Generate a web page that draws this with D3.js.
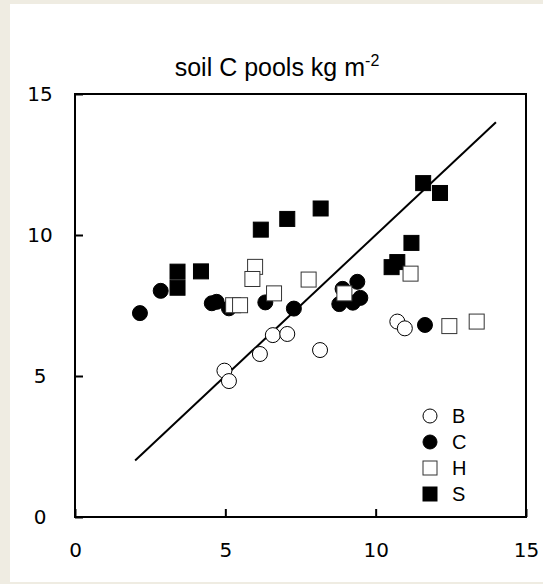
<!DOCTYPE html>
<html>
<head>
<meta charset="utf-8">
<script src="https://cdn.jsdelivr.net/npm/d3@7"></script>
<style>
  body { margin: 0; background: #efece2; }
  svg { display: block; }
</style>
</head>
<body>
<div id="chart"></div>
<script>
// values (x, y in kg m-2)
const seriesNames = ['B', 'C', 'H', 'S']
const bX = [4.97, 5.12, 6.15, 6.58, 7.06, 8.15, 10.72, 10.97]
const bY = [5.19, 4.82, 5.78, 6.45, 6.49, 5.92, 6.93, 6.69]
const cX = [2.16, 2.85, 4.55, 4.71, 5.12, 6.33, 7.28, 8.79, 8.90, 9.24, 9.39, 9.49, 11.64]
const cY = [7.23, 8.02, 7.58, 7.63, 7.40, 7.61, 7.39, 7.55, 8.09, 7.60, 8.34, 7.77, 6.81]
const hX = [5.99, 5.90, 5.26, 5.49, 6.62, 7.77, 8.96, 11.16, 12.45, 13.36]
const hY = [8.87, 8.44, 7.51, 7.51, 7.93, 8.42, 7.93, 8.63, 6.77, 6.93]
const sX = [3.41, 3.41, 4.19, 6.18, 7.06, 8.17, 10.53, 10.72, 11.19, 11.58, 12.14]
const sY = [8.70, 8.13, 8.71, 10.19, 10.57, 10.94, 8.86, 9.04, 9.72, 11.84, 11.49]
const oneToOne = [2, 14]
const tickValues = [0, 5, 10, 15]

const zip = (xs, ys) => xs.map((x, i) => ({ x: x, y: ys[i] }))

const width = 543
const height = 584
const x = d3.scaleLinear().domain([0, 15]).range([75, 526])
const y = d3.scaleLinear().domain([0, 15]).range([517, 94])

const svg = d3.select('#chart')
    .append('svg')
    .attr('width', width)
    .attr('height', height)

svg.append('rect')
    .attr('x', 10)
    .attr('y', 4)
    .attr('width', width - 10)
    .attr('height', 578)
    .attr('fill', '#ffffff')

// title
const title = svg.append('text')
    .attr('x', 277)
    .attr('y', 76)
    .attr('text-anchor', 'middle')
    .style('font-family', 'Arial, "Liberation Sans", sans-serif')
    .style('font-size', '25px')
    .text('soil C pools kg m')
title.append('tspan')
    .attr('dy', -10)
    .style('font-size', '16px')
    .text('-2')

// axes with inward ticks
const xAxis = d3.axisBottom(x).tickValues(tickValues).tickSizeInner(-8).tickSizeOuter(0).tickPadding(26)
const yAxis = d3.axisLeft(y).tickValues(tickValues).tickSizeInner(-8).tickSizeOuter(0).tickPadding(20)

const gx = svg.append('g')
    .attr('transform', `translate(0, ${y(0)})`)
    .call(xAxis)
const gy = svg.append('g')
    .attr('transform', `translate(${x(0)}, 0)`)
    .call(yAxis)

;[gx, gy].forEach((g) => {
    g.select('.domain').remove()
    g.selectAll('line').attr('stroke', '#000').attr('stroke-width', 2)
    g.selectAll('text')
        .attr('fill', '#000')
        .style('font-family', '"DejaVu Sans", Verdana, sans-serif')
        .style('font-size', '20px')
})
gy.selectAll('text').attr('text-anchor', 'middle').attr('x', -35)

// 1:1 line
svg.append('line')
    .attr('x1', x(oneToOne[0]))
    .attr('y1', y(oneToOne[0]))
    .attr('x2', x(oneToOne[1]))
    .attr('y2', y(oneToOne[1]))
    .attr('stroke', '#000')
    .attr('stroke-width', 2)

const sq = 15
const r = 7.5

const drawSquares = (data, fill, stroke) => {
    svg.append('g')
        .selectAll('rect')
        .data(data)
        .enter()
        .append('rect')
        .attr('x', (d) => x(d.x) - sq / 2)
        .attr('y', (d) => y(d.y) - sq / 2)
        .attr('width', sq)
        .attr('height', sq)
        .attr('fill', fill)
        .attr('stroke', stroke)
        .attr('stroke-width', 1)
}
const drawCircles = (data, fill, stroke) => {
    svg.append('g')
        .selectAll('circle')
        .data(data)
        .enter()
        .append('circle')
        .attr('cx', (d) => x(d.x))
        .attr('cy', (d) => y(d.y))
        .attr('r', r)
        .attr('fill', fill)
        .attr('stroke', stroke)
        .attr('stroke-width', 1)
}

drawSquares(zip(sX, sY), '#000', '#000')
drawCircles(zip(cX, cY), '#000', '#000')
drawSquares(zip(hX, hY), '#fff', '#333')
drawCircles(zip(bX, bY), '#fff', '#000')

// frame
svg.append('rect')
    .attr('x', x(0))
    .attr('y', y(15))
    .attr('width', x(15) - x(0))
    .attr('height', y(0) - y(15))
    .attr('fill', 'none')
    .attr('stroke', '#000')
    .attr('stroke-width', 2)

// legend
const legendY = d3.scalePoint().domain(seriesNames).range([416, 494])
const legend = svg.append('g')
seriesNames.forEach((name) => {
    const cy = legendY(name)
    if (name === 'B' || name === 'C') {
        legend.append('circle')
            .attr('cx', 430)
            .attr('cy', cy)
            .attr('r', 7)
            .attr('fill', name === 'B' ? '#fff' : '#000')
            .attr('stroke', '#000')
    } else {
        legend.append('rect')
            .attr('x', 423)
            .attr('y', cy - 7)
            .attr('width', 14)
            .attr('height', 14)
            .attr('fill', name === 'H' ? '#fff' : '#000')
            .attr('stroke', name === 'H' ? '#333' : '#000')
    }
    legend.append('text')
        .attr('x', 452)
        .attr('y', cy + 7)
        .style('font-family', 'Arial, "Liberation Sans", sans-serif')
        .style('font-size', '20px')
        .text(name)
})
</script>
</body>
</html>
